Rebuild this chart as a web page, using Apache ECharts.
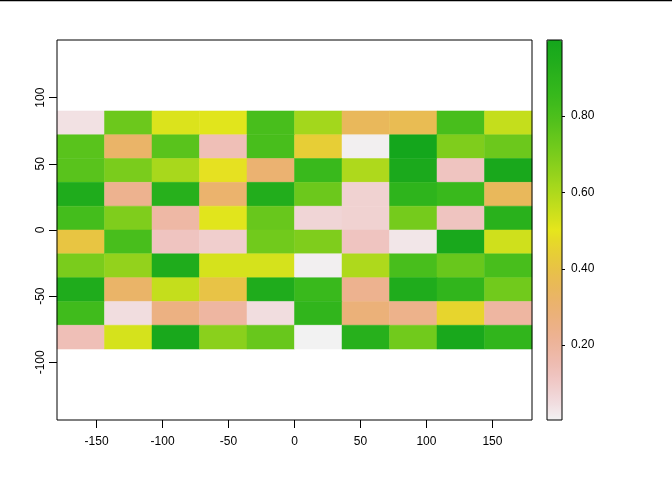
<!DOCTYPE html>
<html>
<head>
<meta charset="utf-8">
<script src="https://cdn.jsdelivr.net/npm/echarts@6/dist/echarts.min.js"></script>
<style>
  html, body { margin: 0; padding: 0; background: #fff; }
  #chart { width: 672px; height: 480px; }
</style>
</head>
<body>
<div id="chart"></div>
<script>
// cell edges (lon / lat) of the 10 x 10 raster
var xBreaks = [-180, -144, -108, -72, -36, 0, 36, 72, 108, 144, 180];
var yBreaks = [90, 72, 54, 36, 18, 0, -18, -36, -54, -72, -90];

// cell values, top row first, west to east
var row1  = [0.04, 0.73, 0.52, 0.51, 0.81, 0.62, 0.35, 0.37, 0.81, 0.56];
var row2  = [0.77, 0.32, 0.77, 0.14, 0.81, 0.44, 0.01, 0.999, 0.69, 0.73];
var row3  = [0.77, 0.70, 0.61, 0.49, 0.30, 0.85, 0.60, 0.97, 0.12, 0.98];
var row4  = [0.95, 0.23, 0.92, 0.31, 0.94, 0.73, 0.08, 0.89, 0.85, 0.35];
var row5  = [0.82, 0.69, 0.18, 0.51, 0.74, 0.07, 0.08, 0.71, 0.12, 0.91];
var row6  = [0.41, 0.81, 0.12, 0.09, 0.72, 0.69, 0.12, 0.03, 0.98, 0.54];
var row7  = [0.70, 0.65, 0.95, 0.53, 0.53, 0.01, 0.60, 0.81, 0.74, 0.81];
var row8  = [0.95, 0.32, 0.56, 0.40, 0.95, 0.85, 0.23, 0.95, 0.88, 0.72];
var row9  = [0.83, 0.05, 0.26, 0.19, 0.05, 0.88, 0.28, 0.24, 0.46, 0.19];
var row10 = [0.14, 0.53, 0.98, 0.67, 0.74, 0.004, 0.92, 0.72, 0.98, 0.88];
var rows = [row1, row2, row3, row4, row5, row6, row7, row8, row9, row10];

var xTicks = [-150, -100, -50, 0, 50, 100, 150];
var yTicks = [-100, -50, 0, 50, 100];
var legendTicks = [0.2, 0.4, 0.6, 0.8];
var zMin = 0.004, zMax = 0.999;

// rev(terrain.colors) palette
function hsv(h, s, v) {
  var i = Math.floor(h * 6) % 6, f = h * 6 - Math.floor(h * 6);
  var p = v * (1 - s), q = v * (1 - f * s), t = v * (1 - (1 - f) * s);
  var rgb = [[v, t, p], [q, v, p], [p, v, t], [p, q, v], [t, p, v], [v, p, q]][i];
  var r = rgb[0] * 255, g = rgb[1] * 255, b = rgb[2] * 255;
  r = r + 20 * Math.max(0, 1 - r / 60);
  b = b + 28 * (1 - b / 255);
  return '#' + [r, g, b].map(function (c) {
    return ('0' + Math.min(255, Math.round(c)).toString(16)).slice(-2);
  }).join('');
}
function terrain(t) {
  var p = 1 - t;
  if (p <= 0.5) {
    var a = p / 0.5;
    return hsv(1 / 3 - a / 6, 1, 0.65 + 0.25 * a);
  }
  var q = (p - 0.5) / 0.5;
  return hsv((1 - q) / 6, 1 - q, 0.9 + 0.05 * q);
}
var palette = [];
for (var k = 0; k <= 40; k++) palette.push(terrain(k / 40));
palette[0] = '#f2f2f2';

var cells = [];
rows.forEach(function (r, j) {
  r.forEach(function (v, i) {
    cells.push([xBreaks[i], xBreaks[i + 1], yBreaks[j], yBreaks[j + 1], v]);
  });
});

var chart = echarts.init(document.getElementById('chart'));
var axisFont = { fontFamily: 'Liberation Sans, Arial, sans-serif', fontSize: 12, color: '#000' };

var option = {
  animation: false,
  backgroundColor: '#fff',
  grid: [
    { left: 57, right: 140, top: 40, bottom: 60, show: true, borderColor: '#000', borderWidth: 1, backgroundColor: 'transparent', z: 5 },
    { left: 547, width: 15, top: 40, height: 380, show: true, borderColor: '#000', borderWidth: 1, backgroundColor: 'transparent', z: 10 }
  ],
  xAxis: [{
    type: 'value', gridIndex: 0, min: -180, max: 180,
    axisLine: { show: false, onZero: false },
    axisTick: { show: true, length: 8, customValues: xTicks, lineStyle: { color: '#000' } },
    axisLabel: Object.assign({ margin: 16, customValues: xTicks }, axisFont),
    splitLine: { show: false }
  }, {
    type: 'value', gridIndex: 1, min: 0, max: 1, show: false
  }],
  yAxis: [{
    type: 'value', gridIndex: 0, min: -143.6, max: 143.6,
    axisLine: { show: false, onZero: false },
    axisTick: { show: true, length: 8, customValues: yTicks, lineStyle: { color: '#000' } },
    axisLabel: Object.assign({ margin: 10, rotate: 90, customValues: yTicks }, axisFont),
    splitLine: { show: false }
  }, {
    type: 'value', gridIndex: 1, min: zMin, max: zMax, position: 'right',
    axisLine: { show: false, onZero: false },
    axisTick: { show: true, length: 3, customValues: legendTicks, lineStyle: { color: '#000' } },
    axisLabel: Object.assign({ margin: 9, customValues: legendTicks, formatter: function (v) { return v.toFixed(2); } }, axisFont),
    splitLine: { show: true, lineStyle: { color: '#000', width: 1 } }
  }],
  visualMap: {
    type: 'continuous', seriesIndex: 0, dimension: 4,
    min: zMin, max: zMax, calculable: false,
    left: 547, top: 40, itemWidth: 15, itemHeight: 380, padding: 0,
    inRange: { color: palette }, text: null, hoverLink: false, z: 2
  },
  graphic: [{
    type: 'line', shape: { x1: 0, y1: 0.5, x2: 672, y2: 0.5 },
    style: { stroke: '#000', lineWidth: 1.5 }
  }],
  series: [{
    type: 'custom', xAxisIndex: 0, yAxisIndex: 0, data: cells,
    renderItem: function (params, api) {
      var p0 = api.coord([api.value(0), api.value(2)]);
      var p1 = api.coord([api.value(1), api.value(3)]);
      return {
        type: 'rect',
        shape: { x: p0[0], y: p0[1], width: p1[0] - p0[0], height: p1[1] - p0[1] },
        style: { fill: api.visual('color'), stroke: api.visual('color'), lineWidth: 0.5 }
      };
    }
  }]
};
chart.setOption(option);
</script>
</body>
</html>
